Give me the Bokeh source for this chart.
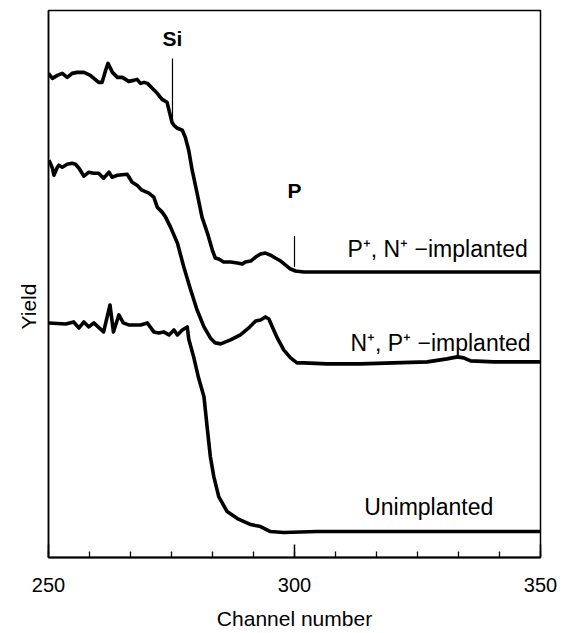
from bokeh.plotting import figure
from bokeh.models import FixedTicker, Title
from bokeh.core.properties import value
from bokeh.embed import file_html
from bokeh.resources import INLINE

# ---------------- data (yield in arbitrary units) ----------------
ch_pn = [250.0, 250.8, 251.8, 252.8, 253.8, 254.8, 255.8, 257.2, 258.5, 260.2, 260.9, 261.6,
         262.1, 263.0, 264.0, 265.0, 266.3, 267.3, 268.0, 268.7, 269.4, 270.1, 271.1, 272.1,
         273.1, 274.1, 274.5, 275.1, 275.5, 276.2, 277.2, 277.8, 278.5, 279.2, 280.2, 281.2,
         282.3, 283.3, 283.9, 284.6, 285.6, 287.0, 288.4, 289.4, 290.0, 291.1, 292.1, 293.1,
         294.1, 295.1, 296.1, 297.2, 298.2, 299.2, 300.2, 301.9, 310.0, 320.0, 335.0, 350.0]
y_pn = [485, 480, 483, 485, 481, 485, 486, 486, 483, 476, 476, 488,
        495, 486, 481, 481, 477, 478, 479, 475, 476, 475, 470, 465,
        459, 456, 448, 436, 433, 430, 428, 421, 408, 388, 365, 341,
        325, 308, 300, 299, 296, 296, 295, 294, 296, 297, 301, 304,
        305, 303, 300, 297, 293, 289, 287, 286, 286, 286, 286, 286]

ch_np = [250.1, 250.8, 251.1, 251.8, 252.1, 252.8, 253.8, 254.8, 255.5, 256.2, 257.2, 258.2,
         259.2, 260.2, 261.2, 262.3, 262.9, 264.0, 266.0, 267.0, 268.0, 269.0, 270.4, 271.4,
         272.1, 273.1, 273.8, 274.8, 276.2, 277.5, 278.9, 280.2, 281.6, 282.9, 283.9, 285.0,
         287.0, 289.0, 290.7, 292.1, 293.1, 294.1, 294.8, 295.5, 296.5, 297.8, 299.2, 300.5,
         301.9, 306.6, 313.4, 320.1, 327.0, 331.0, 333.1, 334.4, 335.8, 340.5, 350.0]
y_np = [398, 390, 383, 391, 393, 391, 394, 395, 394, 390, 382, 386,
        385, 385, 380, 386, 381, 383, 384, 376, 373, 368, 365, 361,
        351, 346, 341, 331, 315, 291, 268, 248, 231, 220, 215, 214,
        218, 223, 230, 237, 238, 241, 239, 231, 220, 208, 200, 195,
        195, 194, 194, 195, 196, 199, 201, 200, 197, 196, 196]

ch_un = [250.1, 253.5, 255.1, 256.2, 257.2, 258.2, 259.2, 261.2, 262.5, 263.2, 264.3, 265.2,
         266.3, 268.7, 270.1, 271.4, 272.4, 273.4, 274.5, 275.5, 276.2, 277.2, 278.2, 278.5,
         279.5, 280.5, 281.6, 282.3, 282.9, 283.6, 284.6, 286.3, 288.4, 291.1, 293.1, 295.1,
         297.8, 304.6, 318.2, 331.7, 350.0]
y_un = [235, 234, 236, 230, 236, 231, 235, 226, 253, 226, 243, 235,
        233, 233, 235, 226, 225, 226, 223, 228, 223, 228, 231, 219,
        201, 180, 161, 128, 101, 81, 61, 46, 39, 33, 31, 26,
        25, 26, 26, 26, 26]

x_ticks = [250, 300, 350]
x_minor = [250 + k * 25 / 3 for k in range(13)]

labels = ["P\u207a, N\u207a \u2212implanted", "N\u207a, P\u207a \u2212implanted", "Unimplanted"]
label_x = [347.4, 348.0, 340.4]
label_y = [309, 215, 51]

markers = ["Si", "P"]
marker_ch = [275.2, 300.0]
marker_top = [500, 322]
marker_bot = [437, 291]
marker_lab_y = [520, 368]

FONT = "Liberation Sans"

p = figure(width=560, height=632, x_range=(250, 350), y_range=(0, 548),
           output_backend="svg", toolbar_location=None,
           min_border_left=48, min_border_right=20, min_border_top=10, min_border_bottom=74)
p.background_fill_color = "white"
p.border_fill_color = "white"
p.grid.visible = False
p.outline_line_color = "black"
p.outline_line_width = 1.5

xa = p.xaxis[0]
xa.ticker = FixedTicker(ticks=x_ticks, minor_ticks=x_minor)
xa.major_tick_in = 13
xa.major_tick_out = 0
xa.minor_tick_in = 6
xa.minor_tick_out = 0
xa.axis_line_width = 2
xa.major_tick_line_width = 1.5
xa.minor_tick_line_width = 1.3
xa.major_label_text_font = FONT
xa.major_label_text_font_size = "20px"
xa.major_label_text_color = "black"
xa.major_label_standoff = 20
xa.axis_label = "Channel number"
xa.axis_label_text_font = FONT
xa.axis_label_text_font_size = "21px"
xa.axis_label_text_font_style = "normal"
xa.axis_label_text_color = "black"
xa.axis_label_standoff = 12

ya = p.yaxis[0]
ya.ticker = FixedTicker(ticks=[])
ya.major_tick_in = 0
ya.major_tick_out = 0
ya.minor_tick_in = 0
ya.minor_tick_out = 0
ya.axis_line_width = 1.5

p.add_layout(Title(text="Yield", align="left", offset=228, standoff=17,
                   text_font=FONT, text_font_size="21px", text_font_style="normal",
                   text_color="black"), "left")

for xs, ys in [(ch_pn, y_pn), (ch_np, y_np), (ch_un, y_un)]:
    p.line(xs, ys, line_color="black", line_width=3.6, line_join="round")

p.segment(x0=marker_ch, y0=marker_bot, x1=marker_ch, y1=marker_top,
          line_color="black", line_width=1.2)
p.text(x=marker_ch, y=marker_lab_y, text=markers, text_font=value(FONT),
       text_font_size=value("21px"), text_font_style="bold",
       text_align="center", text_baseline="middle", text_color="black")

p.text(x=label_x, y=label_y, text=labels, text_font=value(FONT),
       text_font_size=value("23px"), text_align="right", text_baseline="alphabetic",
       text_color="black")

open("out.html", "w").write(file_html(p, INLINE))
